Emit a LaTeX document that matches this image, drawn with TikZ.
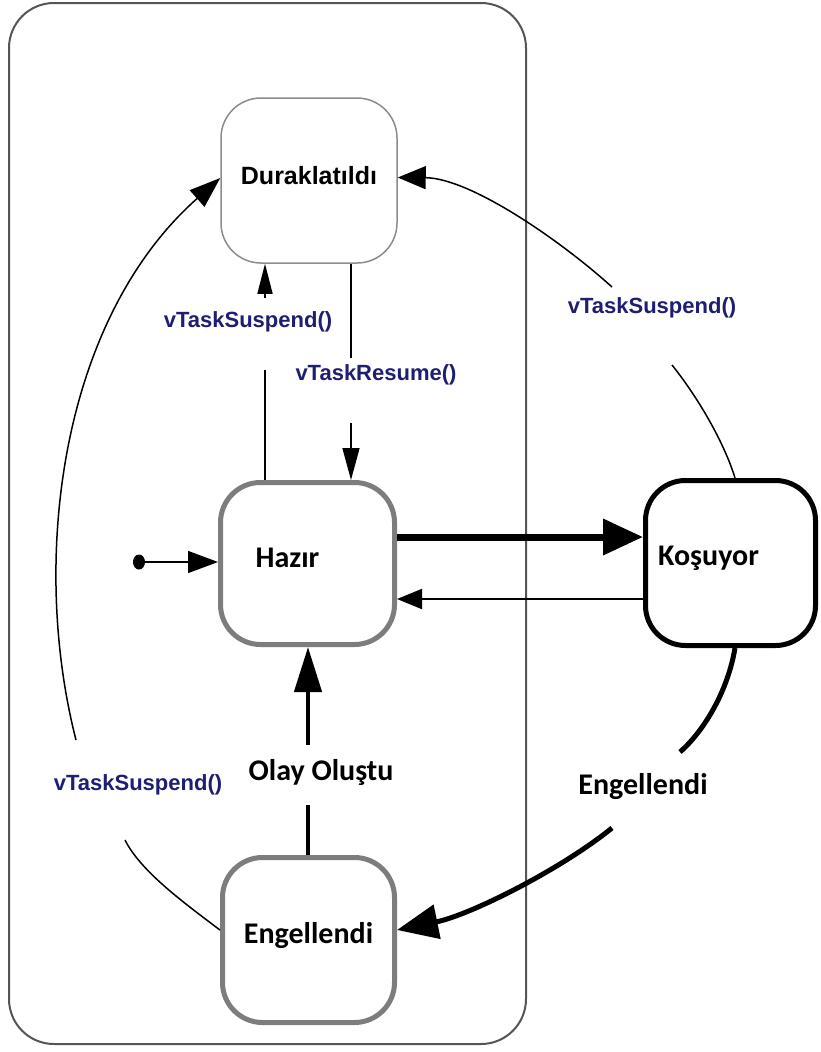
\documentclass[tikz,border=0pt]{standalone}
\usepackage{fontspec}
\setmainfont{Carlito}
\newfontfamily\arialf{Liberation Sans}
\usetikzlibrary{arrows.meta,shapes.geometric}
\definecolor{labblue}{RGB}{30,30,115}
\definecolor{boxgray}{RGB}{125,125,125}
\definecolor{lightgray}{RGB}{140,140,140}
\definecolor{framegray}{RGB}{85,85,85}
\begin{document}
\begin{tikzpicture}[x=1pt,y=-1pt,
  statebox/.style={rectangle, rounded corners=40pt, fill=white, inner sep=0pt},
  nodefont/.style={font=\fontsize{30}{30}\selectfont\bfseries},
  callfont/.style={font=\arialf\fontsize{22}{22}\selectfont\bfseries, text=labblue},
  thinline/.style={line width=1.5pt, draw=black},
]
\fill[white] (0,0) rectangle (820,1052);
\useasboundingbox (0,0) rectangle (820,1052);
% frame
\draw[line width=2pt, draw=framegray, rounded corners=45pt] (9,3) rectangle (526,1044);

% states
\node[statebox, draw=lightgray, line width=1.5pt, minimum width=176pt, minimum height=165pt,
  label={[font=\arialf\fontsize{25}{25}\selectfont\bfseries, yshift=4.5pt]center:Duraklatıldı}] (dur) at (309,180.5) {};
\node[statebox, draw=boxgray, line width=5pt, minimum width=174pt, minimum height=162pt,
  label={[nodefont, xshift=-20pt, yshift=5.5pt]center:Hazır}] (haz) at (307.5,563.5) {};
\node[statebox, draw=black, line width=5pt, minimum width=170pt, minimum height=165pt,
  label={[nodefont, xshift=-22pt, yshift=5pt]center:Koşuyor}] (kos) at (730.5,563) {};
\node[statebox, draw=boxgray, line width=5pt, minimum width=172pt, minimum height=165pt,
  label={[nodefont, yshift=4pt]center:Engellendi}] (eng) at (308.5,940) {};

% labels
\node[nodefont] (olay) at (321,772) {Olay Oluştu};
\node[nodefont] (blk) at (643,787) {Engellendi};
\node[callfont] (s1) at (248,322) {vTaskSuspend()};
\node[callfont] (r1) at (376,375) {vTaskResume()};
\node[callfont] (s2) at (652,308) {vTaskSuspend()};
\node[callfont] (s3) at (138,785) {vTaskSuspend()};

% initial
\node[ellipse, fill=black, inner sep=0pt, minimum width=12pt, minimum height=15pt] (init) at (139,562) {};
\draw[thinline, -{Triangle[length=30pt,width=22pt]}] (init) -- (init -| haz.west);

% Hazir -> Duraklatildi
\coordinate (s1lo) at (265,370);
\coordinate (s1hi) at (265,298);
\draw[thinline] (haz.north -| s1lo) -- (s1lo);
\draw[thinline, -{Triangle[length=30pt,width=15pt]}] (s1hi) -- (dur.south -| s1hi);

% Duraklatildi -> Hazir
\coordinate (r1hi) at (351,358);
\coordinate (r1lo) at (351,423);
\draw[thinline] (dur.south -| r1hi) -- (r1hi);
\draw[thinline, -{Triangle[length=32pt,width=17pt]}] (r1lo) -- (haz.north -| r1lo);

% Engellendi -> Hazir
\coordinate (o1lo) at (308,805);
\coordinate (o1hi) at (308,745);
\draw[line width=4.5pt] (eng.north -| o1lo) -- (o1lo);
\draw[line width=4.5pt, -{Triangle[length=45pt,width=27pt]}] (o1hi) -- (haz.south -| o1hi);

% Hazir <-> Kosuyor
\coordinate (hk) at (500,537);
\coordinate (kh) at (500,599);
\draw[line width=7pt, -{Triangle[length=40pt,width=35pt]}] (haz.east |- hk) -- (kos.west |- hk);
\draw[line width=2pt, -{Triangle[length=25pt,width=20pt]}] (kos.west |- kh) -- (haz.east |- kh);

% Kosuyor -> Duraklatildi
\coordinate (s2lo) at (672,365);
\coordinate (s2hi) at (612,287);
\draw[thinline] ([xshift=4.5pt]kos.north) .. controls (725,445) and (700,400) .. (s2lo);
\draw[thinline, -{Triangle[length=28pt,width=23pt]}] (s2hi) .. controls (560,240) and (470,178) .. ([yshift=3pt]dur.east);

% Kosuyor -> Engellendi
\coordinate (b1hi) at (680,752);
\coordinate (b1lo) at (612,828);
\draw[line width=5pt] ([xshift=4.5pt]kos.south) .. controls (728,690) and (705,730) .. (b1hi);
\draw[line width=5pt, -{Triangle[length=41pt,width=34pt]}] (b1lo) .. controls (560,870) and (470,915) .. ([yshift=10pt]eng.east);

% Engellendi -> Duraklatildi
\coordinate (s3hi) at (76,740);
\coordinate (s3lo) at (125,840);
\draw[thinline] ([yshift=10pt]eng.west) .. controls (180,900) and (140,870) .. (s3lo);
\draw[thinline, -{Triangle[length=31pt,width=22pt]}] (s3hi) .. controls (30,560) and (60,320) .. ([yshift=2.5pt]dur.west);
\end{tikzpicture}
\end{document}
